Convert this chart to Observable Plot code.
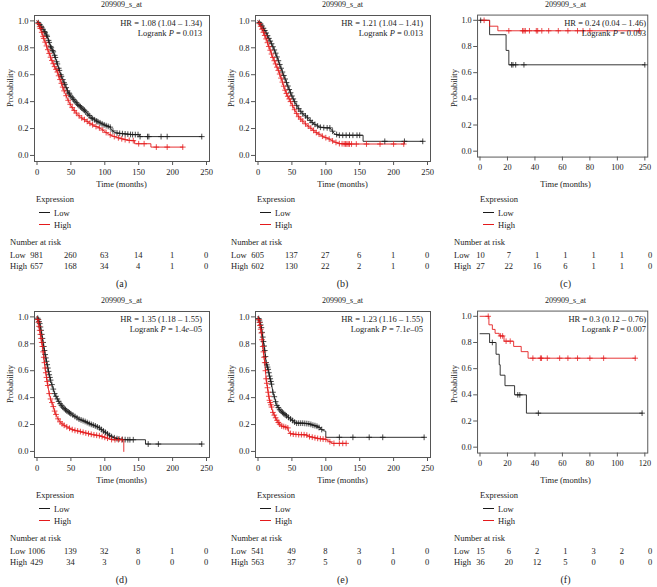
<!DOCTYPE html>
<html><head><meta charset="utf-8">
<script src="https://cdn.jsdelivr.net/npm/d3@7"></script>
<script src="https://cdn.jsdelivr.net/npm/@observablehq/plot@0.6"></script>
<style>
body{margin:0;background:#fff;}
#fig{position:relative;width:657px;height:587px;font-family:"Liberation Serif","Times New Roman",serif;color:#222;overflow:hidden;background:#fff}
.t{position:absolute;white-space:nowrap;font-size:8.5px;line-height:1;}
.c{transform:translate(-50%,-50%)}
.l{transform:translate(0,-50%)}
.r{transform:translate(-100%,-50%)}
.svgwrap{position:absolute;}
.svgwrap svg{overflow:visible;background:transparent}
</style></head><body><div id="fig"></div><script>
// ---------------- data ----------------
const panelLetters = ["(a)", "(b)", "(c)", "(d)", "(e)", "(f)"];
const probeTitle = "209909_s_at";
const hrLabels = ["HR = 1.08 (1.04 – 1.34)", "HR = 1.21 (1.04 – 1.41)", "HR = 0.24 (0.04 – 1.46)",
                  "HR = 1.35 (1.18 – 1.55)", "HR = 1.23 (1.16 – 1.55)", "HR = 0.3 (0.12 – 0.76)"];
const pLabels = ["0.013", "0.013", "0.093", "1.4<i>e</i>–05", "7.1<i>e</i>–05", "0.007"];
const yTicks = [0, 0.2, 0.4, 0.6, 0.8, 1.0];
const xTicksLong = [0, 50, 100, 150, 200, 250];
const xTickLabelsLong = ["0", "50", "100", "150", "200", "250"];
const xTicksShort = [0, 20, 40, 60, 80, 100, 120];
const xTickLabelsC = ["0", "20", "40", "60", "80", "100", "250"];
const xTickLabelsF = ["0", "20", "40", "60", "80", "100", "120"];

const riskLowA = [981, 260, 63, 14, 1, 0],  riskHighA = [657, 168, 34, 4, 1, 0];
const riskLowB = [605, 137, 27, 6, 1, 0],   riskHighB = [602, 130, 22, 2, 1, 0];
const riskLowC = [10, 7, 1, 1, 1, 1, 0],    riskHighC = [27, 22, 16, 6, 1, 1, 0];
const riskLowD = [1006, 139, 32, 8, 1, 0],  riskHighD = [429, 34, 3, 0, 0, 0];
const riskLowE = [541, 49, 8, 3, 1, 0],     riskHighE = [563, 37, 5, 0, 0, 0];
const riskLowF = [15, 6, 2, 1, 3, 2, 0],    riskHighF = [36, 20, 12, 5, 0, 0, 0];

// (a)
const aLowT = [0, 3, 6, 10, 15, 20, 25, 30, 35, 40, 45, 50, 55, 60, 70, 80, 90, 100, 108, 110, 115, 120, 130, 140, 150, 152, 243];
const aLowS = [1.0, 0.98, 0.96, 0.93, 0.885, 0.81, 0.76, 0.68, 0.60, 0.54, 0.48, 0.44, 0.41, 0.38, 0.335, 0.28, 0.25, 0.225, 0.21, 0.19, 0.17, 0.165, 0.16, 0.155, 0.155, 0.14, 0.14];
const aLowCens = [2,4,6,7,9,11,12,14,15,17,18,20,21,23,24,26,27,29,30,32,33,35,36,38,40,41,43,45,47,48,50,52,54,56,58,60,62,64,66,68,70,72,75,77,80,82,85,88,90,93,96,99,102,105,108,112,118,122,126,130,134,138,141,145,149,152,163,165,183,192,243];
const aHighT = [0, 3, 6, 10, 15, 20, 25, 30, 35, 40, 45, 50, 57, 64, 72, 79, 87, 94, 102, 109, 117, 124, 132, 139, 144, 144, 168, 168, 215];
const aHighS = [1.0, 0.97, 0.93, 0.87, 0.80, 0.73, 0.67, 0.62, 0.55, 0.48, 0.42, 0.37, 0.32, 0.285, 0.26, 0.235, 0.215, 0.2, 0.17, 0.15, 0.135, 0.125, 0.115, 0.11, 0.11, 0.087, 0.087, 0.062, 0.062];
const aHighCens = [2,4,5,7,9,10,12,14,16,18,20,22,24,26,28,30,32,34,36,38,40,43,46,49,52,55,58,62,66,70,74,78,82,87,92,97,102,108,114,120,125,130,136,142,150,158,176,192,215];

// (b)
const bLowT = [0, 5, 11, 16, 21, 26, 31, 36, 41, 46, 51, 56, 61, 66, 71, 76, 81, 86, 91, 100, 106, 110, 113, 120, 155, 155, 243];
const bLowS = [1.0, 0.97, 0.92, 0.87, 0.82, 0.76, 0.69, 0.62, 0.555, 0.49, 0.43, 0.38, 0.34, 0.31, 0.29, 0.265, 0.24, 0.225, 0.21, 0.205, 0.205, 0.18, 0.16, 0.15, 0.15, 0.105, 0.105];
const bLowCens = [2,4,6,8,10,12,14,16,18,20,22,24,26,28,30,32,34,36,38,40,42,44,46,48,50,52,54,57,60,63,66,70,73,77,80,84,88,92,97,102,106,110,116,120,125,130,135,140,146,150,187,216,243];
const bHighT = [0, 5, 11, 16, 21, 26, 31, 36, 41, 46, 51, 56, 61, 66, 71, 76, 81, 86, 91, 96, 101, 106, 111, 116, 120, 130, 215];
const bHighS = [1.0, 0.95, 0.88, 0.81, 0.74, 0.68, 0.62, 0.545, 0.47, 0.42, 0.37, 0.32, 0.28, 0.255, 0.23, 0.21, 0.19, 0.17, 0.155, 0.14, 0.13, 0.12, 0.105, 0.095, 0.088, 0.085, 0.085];
const bHighCens = [2,4,6,8,10,12,14,16,18,20,22,24,26,28,30,32,34,36,38,40,42,44,46,48,51,54,57,60,63,66,70,74,78,82,86,90,95,100,105,110,115,120,124,127,129,131,133,135,138,145,160,180,200,215];

// (c)
const cLowT = [0, 7, 7, 19, 19, 21, 21, 120];
const cLowS = [1.0, 1.0, 0.89, 0.89, 0.77, 0.77, 0.66, 0.66];
const cLowCens = [0.5, 23, 24, 26, 32, 120];
const cHighT = [0, 7, 7, 13, 13, 116];
const cHighS = [1.0, 1.0, 0.955, 0.955, 0.92, 0.92];
const cHighCens = [3, 21, 31, 32, 33, 36, 41, 42, 45, 50, 57, 64, 71, 75, 80, 116];

// (d)
const dLowT = [0, 2, 4, 6, 8, 10, 12, 14, 16, 18, 20, 23, 26, 30, 34, 38, 43, 50, 56, 62, 70, 78, 86, 92, 97, 103, 108, 112, 118, 124, 133, 160, 160, 243];
const dLowS = [1.0, 0.98, 0.95, 0.9, 0.84, 0.78, 0.72, 0.67, 0.62, 0.57, 0.53, 0.48, 0.43, 0.39, 0.355, 0.33, 0.305, 0.28, 0.26, 0.24, 0.225, 0.205, 0.19, 0.175, 0.155, 0.135, 0.115, 0.105, 0.095, 0.09, 0.087, 0.087, 0.055, 0.055];
const dLowCens = [1,2,3,4,5,6,7,8,9,10,11,12,13,14,15,16,17,18,19,20,22,24,26,28,30,32,34,36,38,40,42,44,46,48,50,53,56,59,62,65,68,71,74,77,80,83,86,89,92,95,98,101,104,107,110,114,118,121,126,130,134,137,142,164,179,243];
const dHighT = [0, 2, 4, 6, 8, 10, 12, 14, 16, 18, 20, 23, 26, 30, 34, 38, 45, 53, 62, 72, 82, 92, 100, 106, 111, 128, 128];
const dHighS = [1.0, 0.96, 0.9, 0.84, 0.78, 0.7, 0.62, 0.55, 0.49, 0.43, 0.39, 0.35, 0.3, 0.25, 0.22, 0.2, 0.18, 0.16, 0.15, 0.137, 0.125, 0.117, 0.105, 0.095, 0.087, 0.087, 0.0];
const dHighCens = [1,2,3,4,5,6,7,8,9,10,11,12,13,14,15,16,18,20,22,24,26,28,31,34,37,40,44,48,52,56,60,64,68,72,76,80,84,88,92,96,100,104,110,115,120,125];

// (e)
const eLowT = [0, 2.5, 5, 7, 10, 12, 15, 17, 20, 22, 25, 27, 32, 37, 42, 47, 51, 56, 66, 76, 81, 86, 91, 96, 100, 100, 245];
const eLowS = [1.0, 0.97, 0.92, 0.85, 0.75, 0.66, 0.61, 0.56, 0.5, 0.44, 0.39, 0.35, 0.31, 0.285, 0.265, 0.245, 0.23, 0.21, 0.21, 0.205, 0.195, 0.19, 0.175, 0.155, 0.15, 0.105, 0.105];
const eLowCens = [1,2,3,4,5,6,7,8,9,10,11,12,13,14,15,16,17,18,19,20,22,24,26,28,30,32,34,36,38,40,42,45,48,51,54,57,60,63,66,69,72,75,78,81,84,87,90,94,120,140,164,184,245];
const eHighT = [0, 2.5, 5, 7, 10, 12, 15, 17, 20, 22, 25, 27, 30, 34, 38, 44, 46, 49, 60, 71, 76, 81, 90, 100, 105, 110, 130];
const eHighS = [1.0, 0.95, 0.88, 0.78, 0.66, 0.54, 0.44, 0.38, 0.33, 0.29, 0.26, 0.24, 0.215, 0.19, 0.185, 0.175, 0.14, 0.13, 0.125, 0.124, 0.11, 0.105, 0.095, 0.09, 0.075, 0.06, 0.06];
const eHighCens = [1,2,3,4,5,6,7,8,9,10,11,12,13,14,15,16,17,18,19,20,22,24,26,28,30,32,35,38,41,44,48,52,56,60,64,68,72,76,80,84,88,92,96,100,106,112,120,125,130];

// (f)
const fLowT = [0, 7, 7, 11.7, 11.7, 14, 14, 14.7, 14.7, 18.2, 18.2, 25.2, 25.2, 33.8, 33.8, 118];
const fLowS = [0.867, 0.867, 0.80, 0.80, 0.71, 0.71, 0.63, 0.63, 0.55, 0.55, 0.47, 0.47, 0.40, 0.40, 0.26, 0.26];
const fLowCens = [9, 27.5, 29, 42.5, 118];
const fHighT = [0, 6.5, 6.5, 9, 9, 11, 11, 14, 14, 17.5, 17.5, 24.5, 24.5, 30, 30, 35, 35, 113];
const fHighS = [1.0, 1.0, 0.935, 0.935, 0.9, 0.9, 0.87, 0.87, 0.85, 0.85, 0.81, 0.81, 0.77, 0.77, 0.73, 0.73, 0.68, 0.68];
const fHighCens = [6, 15, 16.5, 19, 22, 38.5, 44, 44.8, 49, 58, 64, 71, 80, 90, 113];

// ---------------- assembly ----------------
const panels = [
  {lowT: aLowT, lowS: aLowS, lowC: aLowCens, highT: aHighT, highS: aHighS, highC: aHighCens, ticks: xTicksLong, tickLabels: xTickLabelsLong, riskLow: riskLowA, riskHigh: riskHighA, xmax: 250},
  {lowT: bLowT, lowS: bLowS, lowC: bLowCens, highT: bHighT, highS: bHighS, highC: bHighCens, ticks: xTicksLong, tickLabels: xTickLabelsLong, riskLow: riskLowB, riskHigh: riskHighB, xmax: 250},
  {lowT: cLowT, lowS: cLowS, lowC: cLowCens, highT: cHighT, highS: cHighS, highC: cHighCens, ticks: xTicksShort, tickLabels: xTickLabelsC, riskLow: riskLowC, riskHigh: riskHighC, xmax: 120},
  {lowT: dLowT, lowS: dLowS, lowC: dLowCens, highT: dHighT, highS: dHighS, highC: dHighCens, ticks: xTicksLong, tickLabels: xTickLabelsLong, riskLow: riskLowD, riskHigh: riskHighD, xmax: 250},
  {lowT: eLowT, lowS: eLowS, lowC: eLowCens, highT: eHighT, highS: eHighS, highC: eHighCens, ticks: xTicksLong, tickLabels: xTickLabelsLong, riskLow: riskLowE, riskHigh: riskHighE, xmax: 250},
  {lowT: fLowT, lowS: fLowS, lowC: fLowCens, highT: fHighT, highS: fHighS, highC: fHighCens, ticks: xTicksShort, tickLabels: xTickLabelsF, riskLow: riskLowF, riskHigh: riskHighF, xmax: 120}
];

const LOW = "#1a1a1a", HIGH = "#e41a1c", AXIS = "#555";
const fig = document.getElementById("fig");

function survAt(T, S, t) {
  let i = 0;
  for (let k = 0; k < T.length; k++) if (T[k] <= t) i = k;
  if (i >= T.length - 1) return S[T.length - 1];
  const t0 = T[i], t1 = T[i + 1];
  if (t1 === t0) return S[i + 1];
  return S[i] + (S[i + 1] - S[i]) * (t - t0) / (t1 - t0);
}
function addText(html, x, y, cls, extra) {
  const d = document.createElement("div");
  d.className = "t " + cls;
  d.style.left = x + "px"; d.style.top = y + "px";
  d.innerHTML = html;
  if (extra) Object.assign(d.style, extra);
  fig.appendChild(d);
  return d;
}

const colLeft = [0, 221, 444];
const rowTop = [0, 296];
const W = 219, H = 175, ML = 34, MR = 10, MT = 15, MB = 14;

panels.forEach((p, idx) => {
  const left = colLeft[idx % 3], top = rowTop[Math.floor(idx / 3)];
  const unit = 169.5 / p.xmax;
  const xDomain = [-2.5 / unit, p.xmax + 3 / unit];
  const lowData = p.lowT.map((t, i) => ({t, s: p.lowS[i]}));
  const highData = p.highT.map((t, i) => ({t, s: p.highS[i]}));
  const lowCens = p.lowC.map(t => ({t, s: survAt(p.lowT, p.lowS, t)}));
  const highCens = p.highC.map(t => ({t, s: survAt(p.highT, p.highS, t)}));
  const labelMap = new Map(p.ticks.map((t, i) => [t, p.tickLabels[i]]));
  const chart = Plot.plot({
    width: W, height: H,
    marginLeft: ML, marginRight: MR, marginTop: MT, marginBottom: MB,
    x: {domain: xDomain},
    y: {domain: [-0.045, 1.04]},
    style: {fontFamily: '"Liberation Serif","Times New Roman",serif', fontSize: "8.5px", color: "#222", background: "transparent", overflow: "visible"},
    marks: [
      Plot.frame({stroke: AXIS, strokeWidth: 1}),
      Plot.axisY({ticks: yTicks, tickFormat: d => d.toFixed(1), tickSize: 4, tickPadding: 2, label: null, stroke: AXIS}),
      Plot.axisX({ticks: p.ticks, tickFormat: d => labelMap.get(d), tickSize: 4, tickPadding: 3, label: null, stroke: AXIS}),
      Plot.line(lowData, {x: "t", y: "s", stroke: LOW, strokeWidth: 0.9}),
      Plot.line(highData, {x: "t", y: "s", stroke: HIGH, strokeWidth: 0.9}),
      Plot.dot(lowCens, {x: "t", y: "s", symbol: "plus", r: 2, stroke: LOW, strokeWidth: 0.8}),
      Plot.dot(highCens, {x: "t", y: "s", symbol: "plus", r: 2, stroke: HIGH, strokeWidth: 0.8})
    ]
  });
  const wrap = document.createElement("div");
  wrap.className = "svgwrap";
  wrap.style.left = left + "px"; wrap.style.top = top + "px";
  wrap.appendChild(chart);
  fig.appendChild(wrap);

  const xs = chart.scale("x");
  const cx = left + (ML + (W - MR)) / 2;
  addText(probeTitle, cx, top + 5, "c", {fontSize: "8px"});
  addText("Probability", left + 10, top + 88, "c", {transform: "translate(-50%,-50%) rotate(-90deg)"});
  addText(hrLabels[idx], left + 202, top + 23, "r");
  addText("Logrank <i>P</i> = " + pLabels[idx], left + 202, top + 33, "r");
  addText("Time (months)", cx, top + 184, "c");
  addText("Expression", left + 55, top + 199, "c");
  const l1 = document.createElement("div");
  Object.assign(l1.style, {position: "absolute", left: (left + 39) + "px", top: (top + 212) + "px", width: "11px", height: "0", borderTop: "1px solid " + LOW});
  fig.appendChild(l1);
  const l2 = document.createElement("div");
  Object.assign(l2.style, {position: "absolute", left: (left + 39) + "px", top: (top + 224) + "px", width: "11px", height: "0", borderTop: "1px solid " + HIGH});
  fig.appendChild(l2);
  addText("Low", left + 54, top + 212.5, "l");
  addText("High", left + 54, top + 224.5, "l");
  addText("Number at risk", left + 10, top + 242, "l");
  addText("Low", left + 10, top + 255, "l");
  addText("High", left + 10, top + 266, "l");
  p.ticks.forEach((t, i) => {
    const x = left + xs.apply(t);
    addText(String(p.riskLow[i]), x, top + 255, "c");
    addText(String(p.riskHigh[i]), x, top + 266, "c");
  });
  addText(panelLetters[idx], cx, top + 284, "c", {fontSize: "10px"});
});
</script></body></html>
